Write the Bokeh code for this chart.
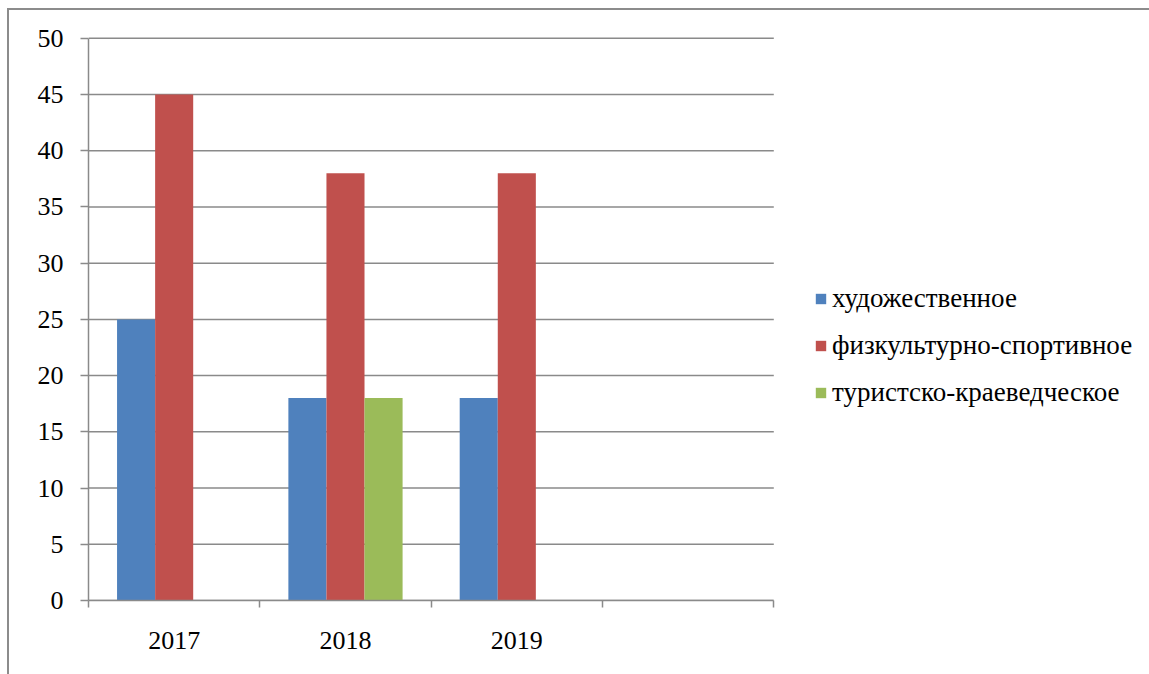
from bokeh.plotting import figure
from bokeh.models import Range1d, FixedTicker, ColumnDataSource, Legend, LegendItem
from bokeh.transform import dodge
from bokeh.embed import file_html
from bokeh.resources import INLINE

# ---- data ----
years = ["2017", "2018", "2019"]
n_slots = 4  # the chart has a fourth, empty category slot
series_names = ["художественное", "физкультурно-спортивное", "туристско-краеведческое"]
hudozh = [25, 18, 18]
fizkult = [45, 38, 38]
turist = [0, 18, 0]
colors = ["#4F81BD", "#C0504D", "#9BBB59"]
y_ticks = list(range(0, 51, 5))

FONT = "Liberation Serif"
GRAY = "#8a8a8a"

W, H = 1142, 666
BL, BT, BB = 79, 25, 76
plot_w = 684                      # width of the category area in px
frame_w = (W - 2) - BL            # frame extends to the right edge (legend lives inside)
x_end = n_slots * frame_w / plot_w

src = ColumnDataSource(dict(
    x=[i + 0.5 for i in range(len(years))],
    a=hudozh, b=fizkult, c=turist,
))

p = figure(width=W, height=H,
           x_range=Range1d(0, x_end), y_range=Range1d(0, 50.25),
           output_backend="svg", toolbar_location=None,
           min_border_left=BL, min_border_top=BT,
           min_border_right=0, min_border_bottom=BB,
           styles={"border-top": "2px solid #8c8c8c",
                   "border-left": "2px solid #8c8c8c",
                   "margin-left": "7px", "margin-top": "8px"})
p.outline_line_color = None
p.background_fill_color = "white"
p.border_fill_color = "white"

# horizontal gridlines limited to the category area
p.segment(x0=0, x1=n_slots, y0=y_ticks, y1=y_ticks, line_color=GRAY, line_width=1.5)

w = 1 / 4.5
r1 = p.vbar(x=dodge("x", -w), top="a", width=w, source=src, fill_color=colors[0], line_color=None)
r2 = p.vbar(x=dodge("x", 0), top="b", width=w, source=src, fill_color=colors[1], line_color=None)
r3 = p.vbar(x=dodge("x", w), top="c", width=w, source=src, fill_color=colors[2], line_color=None)

# y axis
p.yaxis.ticker = FixedTicker(ticks=y_ticks)
p.yaxis.axis_line_color = GRAY
p.yaxis.axis_line_width = 1.5
p.yaxis.major_tick_line_color = GRAY
p.yaxis.major_tick_line_width = 1.5
p.yaxis.major_tick_out = 8
p.yaxis.major_tick_in = 0
p.yaxis.minor_tick_line_color = None
p.yaxis.major_label_standoff = 17
p.yaxis.major_label_text_font = FONT
p.yaxis.major_label_text_font_size = "26px"
p.yaxis.major_label_text_color = "black"
p.yaxis.bounds = (0, 50)

# x axis
p.xaxis.ticker = FixedTicker(ticks=[i + 0.5 for i in range(len(years))],
                             minor_ticks=list(range(n_slots + 1)))
p.xaxis.major_label_overrides = {i + 0.5: y for i, y in enumerate(years)}
p.xaxis.bounds = (0, n_slots)
p.xaxis.axis_line_color = GRAY
p.xaxis.axis_line_width = 1.5
p.xaxis.major_tick_line_color = None
p.xaxis.major_tick_out = 0
p.xaxis.major_tick_in = 0
p.xaxis.minor_tick_line_color = GRAY
p.xaxis.minor_tick_line_width = 1.5
p.xaxis.minor_tick_out = 7
p.xaxis.minor_tick_in = 0
p.xaxis.major_label_standoff = 24
p.xaxis.major_label_text_font = FONT
p.xaxis.major_label_text_font_size = "26px"
p.xaxis.major_label_text_color = "black"

p.xgrid.grid_line_color = None
p.ygrid.grid_line_color = None

legend = Legend(items=[LegendItem(label=series_names[0], renderers=[r1]),
                       LegendItem(label=series_names[1], renderers=[r2]),
                       LegendItem(label=series_names[2], renderers=[r3])],
                location=(726, 192))
legend.padding = 0
legend.margin = 0
legend.border_line_color = None
legend.background_fill_alpha = 0
legend.glyph_width = 13
legend.glyph_height = 13
legend.label_height = 30
legend.spacing = 16
legend.label_standoff = 5
legend.label_text_font = FONT
legend.label_text_font_size = "27px"
legend.label_text_color = "black"
p.add_layout(legend, "center")

open("out.html", "w").write(file_html(p, INLINE))
